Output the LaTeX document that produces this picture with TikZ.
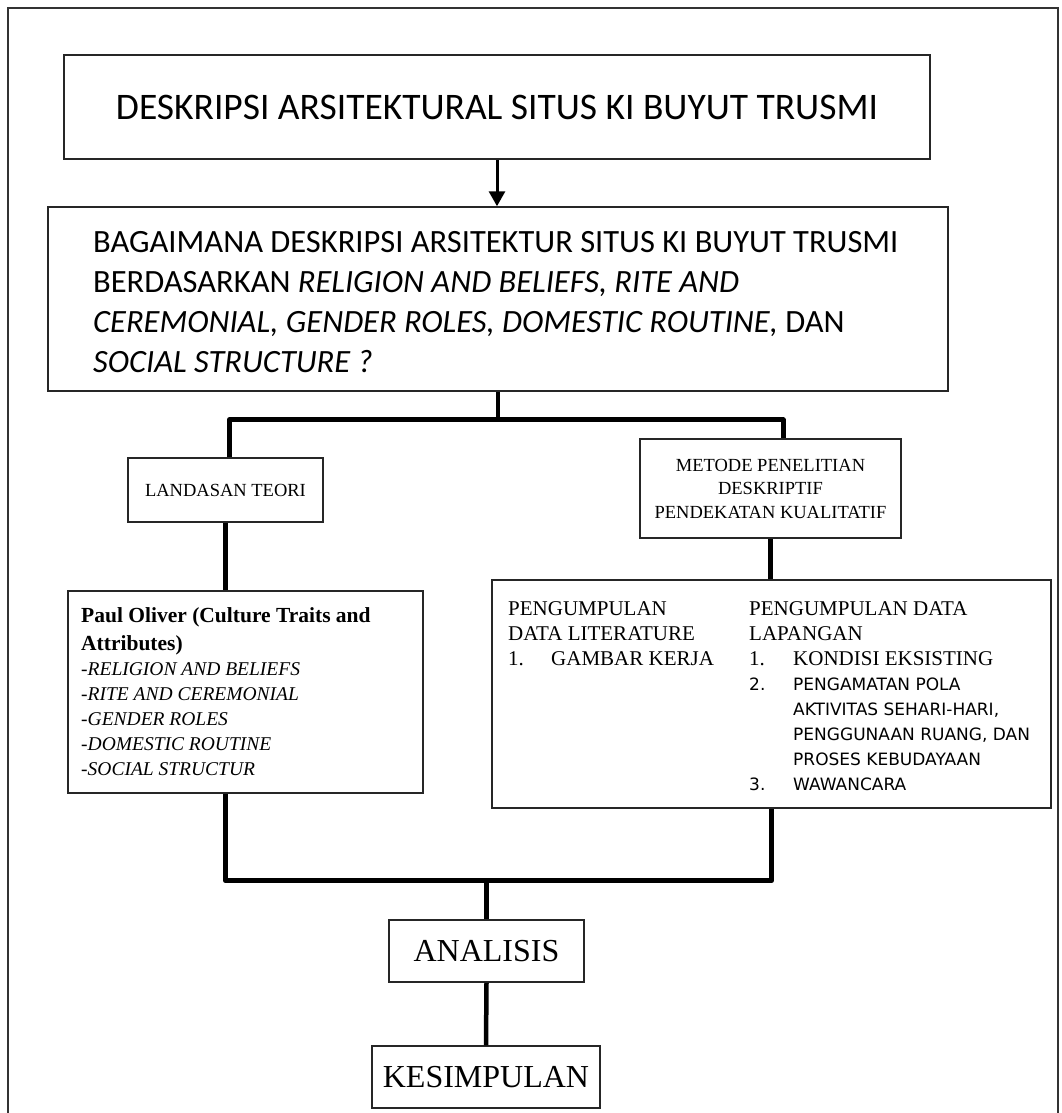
\documentclass[tikz,border=0pt]{standalone}
\usepackage{fontspec}
\setmainfont{Liberation Serif}
\newfontfamily\calfont{Carlito}
\newfontfamily\dvsfont{DejaVu Sans}
\usetikzlibrary{arrows.meta}

\begin{document}
\begin{tikzpicture}[x=1pt,y=-1pt,
  box/.style={draw=black!85, line width=1.5pt, rectangle, inner sep=0pt},
  conn/.style={line width=5pt, line join=round},
  lbl/.style={inner sep=0pt, align=left, anchor=north west}]
\useasboundingbox (0,0) rectangle (1062,1113);
\fill[white] (0,0) rectangle (1062,1113);
\draw[line width=1.5pt, black!80] (8,1113) -- (8,8) -- (1058,8) -- (1058,1113);

\node[box, minimum width=866pt, minimum height=104pt, font=\calfont\fontsize{37.5}{44}\selectfont] (tb) at (497,107) {DESKRIPSI ARSITEKTURAL SITUS KI BUYUT TRUSMI};

\node[box, minimum width=900pt, minimum height=184pt] (sb) at (498,299) {};
\node[lbl, font=\calfont\fontsize{32.5}{40}\selectfont] (sbt) at (93,231) {BAGAIMANA DESKRIPSI ARSITEKTUR SITUS KI BUYUT TRUSMI\\ BERDASARKAN \textit{RELIGION AND BELIEFS, RITE AND}\\ \textit{CEREMONIAL, GENDER ROLES, DOMESTIC ROUTINE,} DAN\\ \textit{SOCIAL STRUCTURE ?}};

\node[box, minimum width=195pt, minimum height=64pt, font=\fontsize{18.5}{22}\selectfont] (lt) at (225.5,490) {LANDASAN TEORI};

\node[box, minimum width=261pt, minimum height=99pt, align=center, font=\fontsize{18.5}{23.5}\selectfont] (mt) at (770.5,488.5) {METODE PENELITIAN\\DESKRIPTIF\\PENDEKATAN KUALITATIF};

\node[box, minimum width=355pt, minimum height=202pt] (pb) at (245.5,692) {};
\node[lbl, font=\fontsize{21.5}{25}\selectfont] (pbt) at (81,607) {\textbf{Paul Oliver (Culture Traits and}\\[3pt] \textbf{Attributes)}\\ {\fontsize{19.5}{25}\selectfont\textit{-RELIGION AND BELIEFS}}\\ {\fontsize{19.5}{25}\selectfont\textit{-RITE AND CEREMONIAL}}\\ {\fontsize{19.5}{25}\selectfont\textit{-GENDER ROLES}}\\ {\fontsize{19.5}{25}\selectfont\textit{-DOMESTIC ROUTINE}}\\ {\fontsize{19.5}{25}\selectfont\textit{-SOCIAL STRUCTUR}}};

\node[box, minimum width=559pt, minimum height=228pt] (rb) at (771.5,694) {};
\node[lbl, font=\fontsize{21}{25}\selectfont] (rbl) at (508,601) {PENGUMPULAN\\ DATA LITERATURE\\ \makebox[43pt][l]{1.}GAMBAR KERJA};
\node[lbl, font=\fontsize{21}{25}\selectfont] (rbr) at (749,601) {PENGUMPULAN DATA\\ LAPANGAN\\ \makebox[44pt][l]{1.}KONDISI EKSISTING\\ {\dvsfont\fontsize{17}{25}\selectfont\makebox[44pt][l]{2.}PENGAMATAN POLA}\\ {\dvsfont\fontsize{17}{25}\selectfont\hspace*{44pt}AKTIVITAS SEHARI-HARI,}\\ {\dvsfont\fontsize{17}{25}\selectfont\hspace*{44pt}PENGGUNAAN RUANG, DAN}\\ {\dvsfont\fontsize{17}{25}\selectfont\hspace*{44pt}PROSES KEBUDAYAAN}\\ {\dvsfont\fontsize{17}{25}\selectfont\makebox[44pt][l]{3.}WAWANCARA}};

\node[box, minimum width=195pt, minimum height=62pt, font=\fontsize{32}{38}\selectfont] (an) at (486.5,951) {ANALISIS};
\node[box, minimum width=228pt, minimum height=62pt, font=\fontsize{32}{38}\selectfont] (ks) at (486,1077) {KESIMPULAN};

\draw[line width=3pt, -{Triangle[width=16pt,length=15pt]}] (tb.south) -- (tb.south |- sb.north);
\draw[line width=4.5pt] (sb.south) -- ++(0,28) coordinate (j1);
\draw[conn] ([xshift=4pt]lt.north) |- (j1) -| ([xshift=12.5pt]mt.north);
\draw[conn] (lt.south) -- (lt.south |- pb.north);
\draw[conn] (mt.south) -- (mt.south |- rb.north);
\draw[conn] (lt.south |- pb.south) -- ++(0,87) coordinate (j2) -| (rb.south);
\draw[conn] (an.north) -- (an.north |- j2);
\draw[line width=4.5pt] (an.south) -- (ks.north);
\end{tikzpicture}
\end{document}
